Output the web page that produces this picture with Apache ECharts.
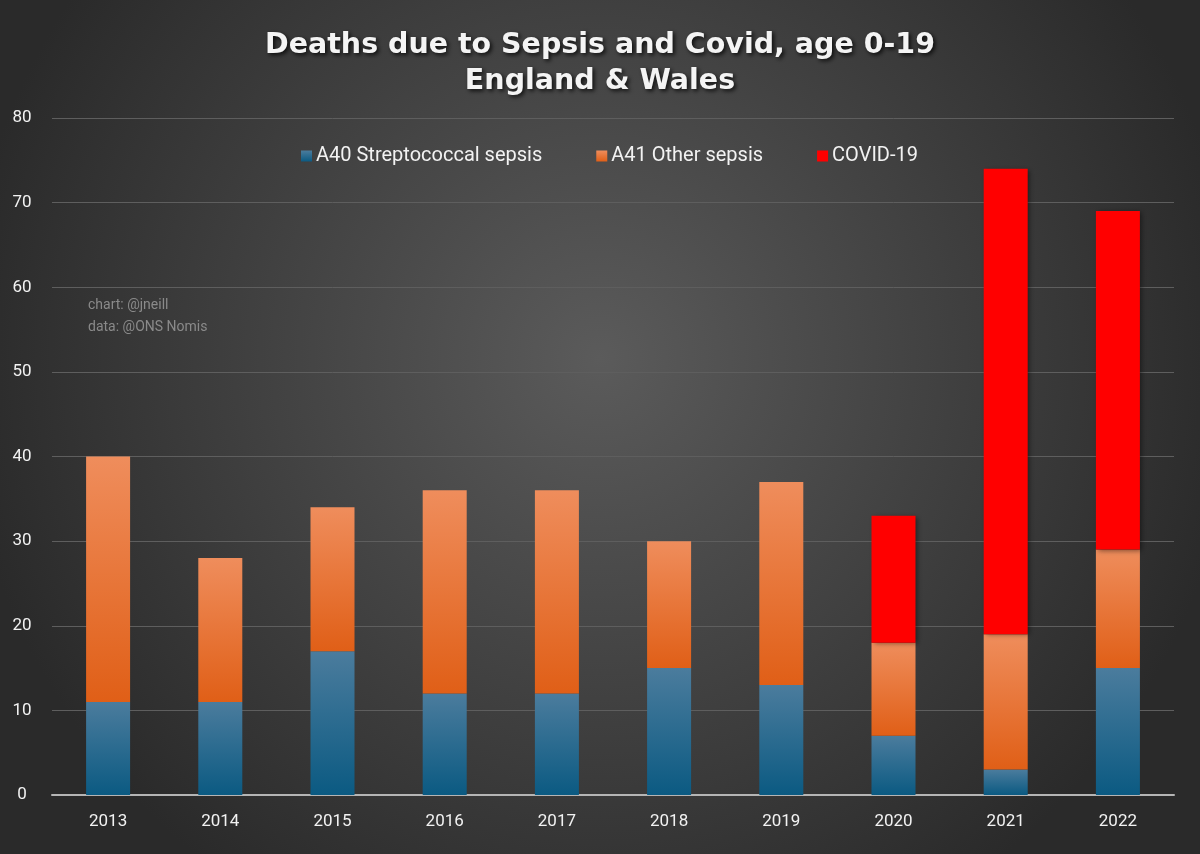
<!DOCTYPE html>
<html><head><meta charset="utf-8">
<script src="https://cdn.jsdelivr.net/npm/echarts@6/dist/echarts.min.js"></script>
<style>html,body{margin:0;padding:0;background:#333}#c{width:1200px;height:854px}</style>
</head><body><div id="c"></div>
<script>
const years = ['2013','2014','2015','2016','2017','2018','2019','2020','2021','2022'];
const strep = [11,11,17,12,12,15,13,7,3,15];
const otherSepsis = [29,17,17,24,24,15,24,11,16,14];
const covid = [0,0,0,0,0,0,0,15,55,40];
const yTicks = [0,10,20,30,40,50,60,70,80];

const chart = echarts.init(document.getElementById('c'));
const grad = (a,b)=>({type:'linear',x:0,y:0,x2:0,y2:1,colorStops:[{offset:0,color:a},{offset:1,color:b}]});
const shadow = {shadowBlur:5,shadowColor:'rgba(0,0,0,0.45)',shadowOffsetX:2,shadowOffsetY:1};
chart.setOption({
  backgroundColor:{type:'radial',x:0.5,y:0.42,r:0.75,colorStops:[{offset:0,color:'#5b5b5b'},{offset:1,color:'#2a2a2a'}]},
  title:{
    text:'Deaths due to Sepsis and Covid, age 0-19\nEngland & Wales',
    left:'center', top:23,
    textStyle:{color:'#f4f4f4',fontFamily:'DejaVu Sans',fontWeight:'bold',fontSize:28.5,lineHeight:36,
      textShadowColor:'rgba(0,0,0,0.8)',textShadowBlur:4,textShadowOffsetX:2,textShadowOffsetY:2}
  },
  legend:{
    top:141, left:296, itemWidth:11, itemHeight:11, itemGap:54,
    icon:'rect',
    textStyle:{color:'#f2f2f2',fontFamily:'Roboto',fontSize:20,padding:[0,0,0,-1]},
    data:['A40 Streptococcal sepsis','A41 Other sepsis','COVID-19']
  },
  grid:{left:52,right:26,top:118,bottom:59},
  xAxis:{
    type:'category', data:years,
    axisLine:{lineStyle:{color:'#b5b5b5',width:2}},
    axisTick:{show:false},
    axisLabel:{color:'#f2f2f2',fontFamily:'Roboto',fontSize:17,margin:18}
  },
  yAxis:{
    type:'value', min:0, max:80, interval:10,
    axisLine:{show:false}, axisTick:{show:false},
    axisLabel:{color:'#f2f2f2',fontFamily:'Roboto',fontSize:17,margin:30,align:'center',
      formatter:v=>yTicks.includes(v)?String(v):''},
    splitLine:{lineStyle:{color:'#5e5e5e',width:1}}
  },
  graphic:[
    {type:'text',left:88,top:294,style:{text:'chart: @jneill\ndata: @ONS Nomis',fill:'#8a8a8a',fontFamily:'Roboto',fontSize:14,lineHeight:22}}
  ],
  series:[
    {name:'A40 Streptococcal sepsis',type:'bar',stack:'t',barWidth:44,data:strep,
      itemStyle:Object.assign({color:grad('#4b7c9d','#0b5a82')},shadow)},
    {name:'A41 Other sepsis',type:'bar',stack:'t',data:otherSepsis,
      itemStyle:Object.assign({color:grad('#ef8d5c','#e05f17')},shadow)},
    {name:'COVID-19',type:'bar',stack:'t',data:covid,
      itemStyle:Object.assign({color:'#ff0000'},shadow)}
  ]
});
</script></body></html>
